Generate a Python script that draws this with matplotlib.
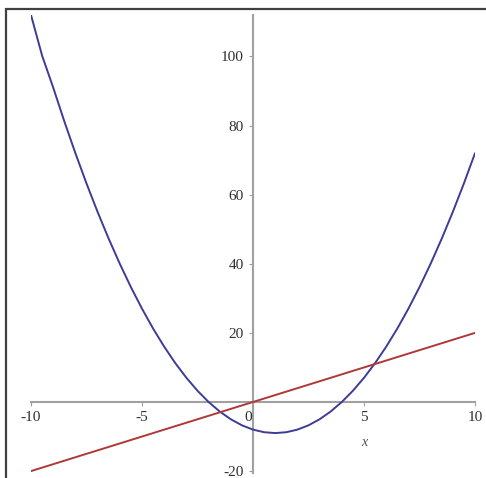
import numpy as np
import matplotlib
matplotlib.use('Agg')
import matplotlib.pyplot as plt
from matplotlib.patches import Rectangle
import matplotlib.transforms as mtransforms

plt.rcParams['axes.unicode_minus'] = False

# parabola values (step 0.5)
x_par = [-10, -9.5, -9, -8.5, -8, -7.5, -7, -6.5, -6, -5.5, -5, -4.5, -4, -3.5,
         -3, -2.5, -2, -1.5, -1, -0.5, 0, 0.5, 1, 1.5, 2, 2.5, 3, 3.5, 4, 4.5,
         5, 5.5, 6, 6.5, 7, 7.5, 8, 8.5, 9, 9.5, 10]
y_par = [112, 100.25, 91, 81.25, 72, 63.25, 55, 47.25, 40, 33.25, 27, 21.25,
         16, 11.25, 7, 3.25, 0, -2.75, -5, -6.75, -8, -8.75, -9, -8.75, -8,
         -6.75, -5, -2.75, 0, 3.25, 7, 11.25, 16, 21.25, 27, 33.25, 40, 47.25,
         55, 63.25, 72]
# straight line
x_lin = [-10, 10]
y_lin = [-20, 20]

xticks = [-10, -5, 0, 5, 10]
yticks = [-20, 20, 40, 60, 80, 100]

W, H = 486, 478
fig = plt.figure(figsize=(W/100, H/100), dpi=100)
fig.patches.append(Rectangle((6/W, -0.1), 1, 1.1 - 9/H, transform=fig.transFigure,
                             fill=False, edgecolor='#404040', linewidth=1.6))

ax = fig.add_axes([31/W, 0, (475-31)/W, (478-15)/H])
ax.set_xlim(-10, 10)
ax.set_ylim(-22, 112)
ax.patch.set_visible(False)

ax.plot(x_par, y_par, color='#3c3c98', linewidth=1.4, solid_capstyle='round')
ax.plot(x_lin, y_lin, color='#b03838', linewidth=1.4, solid_capstyle='round')

for s in ['top', 'right']:
    ax.spines[s].set_visible(False)
ax.spines['left'].set_position('zero')
ax.spines['bottom'].set_position('zero')
ax.spines['left'].set_bounds(-20.5, 112)
for s in ['left', 'bottom']:
    ax.spines[s].set_color('#a0a0a0')
    ax.spines[s].set_linewidth(1.5)
    ax.spines[s].set_zorder(0)

ax.set_xticks(xticks)
ax.set_yticks(yticks)
ax.tick_params(length=3, width=0.8, color='#a0a0a0', labelcolor='#303030',
               labelsize=11, direction='out')
for lab in ax.get_xticklabels() + ax.get_yticklabels():
    lab.set_family('Liberation Serif')

# move the "0" label a little left of the vertical axis
zero_lab = ax.get_xticklabels()[2]
zero_lab.set_transform(zero_lab.get_transform() +
                       mtransforms.ScaledTranslation(-5/100, 0, fig.dpi_scale_trans))

ax.text(5, -11.8, 'x', fontsize=10, fontstyle='italic', family='Liberation Serif',
        color='#505050', ha='center', va='center')

fig.savefig('out.png', dpi=100)
